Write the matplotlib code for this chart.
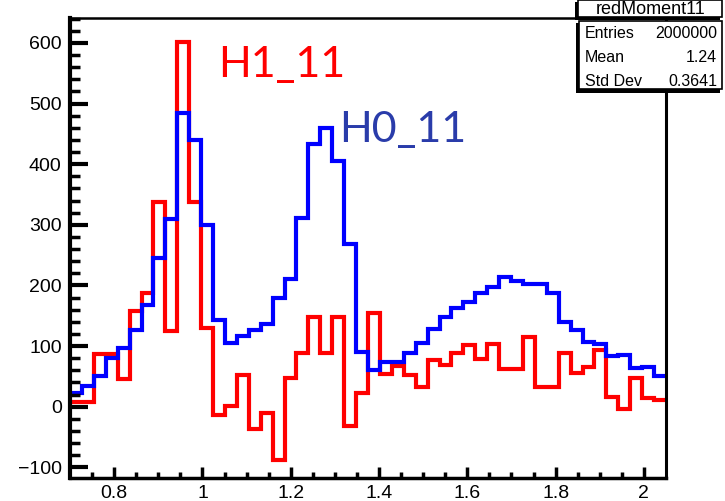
import numpy as np
import matplotlib
matplotlib.use('Agg')
import matplotlib.pyplot as plt
from matplotlib.patches import Rectangle

# ==================== data ====================
n_bins = 50
x_low, x_high = 0.7, 2.05

h0_11 = [23, 34, 50, 81, 97, 127, 168, 245, 309, 485,
         440, 299, 143, 105, 116, 126, 137, 180, 210, 312,
         434, 459, 405, 268, 91, 60, 73, 74, 89, 105,
         129, 148, 162, 173, 187, 197, 214, 208, 203, 202,
         187, 140, 127, 107, 103, 84, 85, 64, 66, 51]

h1_11 = [8, 8, 87, 87, 46, 158, 187, 338, 125, 602,
         338, 130, -14, 1, 53, -36, -11, -88, 47, 88,
         148, 89, 148, -32, 22, 154, 54, 68, 52, 33,
         77, 69, 89, 102, 78, 104, 62, 62, 115, 33,
         33, 88, 55, 66, 93, 16, -3, 47, 15, 11]

stat_names = ['Entries', 'Mean', 'Std Dev']
stat_values = ['2000000', '1.24', '0.3641']
hist_name = 'redMoment11'

# ==================== figure ====================
W, H = 725, 501
fig = plt.figure(figsize=(W / 100, H / 100), dpi=100)
ax = fig.add_axes([70 / W, 1 - 478 / H, (666 - 70) / W, (478 - 18) / H])

edges = np.linspace(x_low, x_high, n_bins + 1)
ax.stairs(h1_11, edges, baseline=None, color='#ff0000', linewidth=3)
ax.stairs(h0_11, edges, baseline=None, color='#0000ff', linewidth=3)

ax.set_xlim(x_low, x_high)
ax.set_ylim(-117.5, 641)

ax.set_xticks([0.8, 1.0, 1.2, 1.4, 1.6, 1.8, 2.0])
ax.set_xticklabels(['0.8', '1', '1.2', '1.4', '1.6', '1.8', '2'])
ax.set_xticks(np.arange(0.75, 2.05, 0.05), minor=True)
ax.set_yticks([-100, 0, 100, 200, 300, 400, 500, 600])
ax.set_yticklabels(['\u2212100', '0', '100', '200', '300', '400', '500', '600'])
ax.set_yticks(np.arange(-100, 641, 20), minor=True)

for lab in ax.get_xticklabels() + ax.get_yticklabels():
    lab.set_fontfamily('Liberation Sans')
    lab.set_fontsize(14)

ax.tick_params(axis='y', which='major', direction='in', length=13, width=3, pad=6)
ax.tick_params(axis='y', which='minor', direction='in', length=7, width=2.5)
ax.tick_params(axis='x', which='major', direction='in', length=8, width=2.5, pad=5)
ax.tick_params(axis='x', which='minor', direction='in', length=4, width=2.5)
ax.spines['left'].set_linewidth(3)
ax.spines['bottom'].set_linewidth(2.5)
ax.spines['top'].set_linewidth(1.8)
ax.spines['right'].set_linewidth(2.2)

# ------ labels on the plot ------
fig.text(218 / W, 1 - 77 / H, 'H1_11', color='#ff0000', fontsize=31,
         family='Lato', va='baseline', ha='left')
fig.text(339 / W, 1 - 142 / H, 'H0_11', color='#2a3caa', fontsize=31,
         family='Lato', va='baseline', ha='left')

# ------ ROOT style stats box ------
def px_rect(x0, y0, x1, y1, **kw):
    r = Rectangle((x0 / W, 1 - y1 / H), (x1 - x0) / W, (y1 - y0) / H,
                  transform=fig.transFigure, **kw)
    fig.add_artist(r)

# title box
px_rect(575, 2, 720, 20, facecolor='black', edgecolor='none')
px_rect(578, 0, 722, 17, facecolor='white', edgecolor='black', linewidth=1.2)
fig.text(651 / W, 1 - 10 / H, hist_name, ha='center', va='center',
         family='Liberation Sans', fontsize=13)

# stats box
px_rect(576, 23, 720, 93, facecolor='black', edgecolor='none')
px_rect(579, 21, 722, 89, facecolor='white', edgecolor='black', linewidth=1.2)
row_y = [34, 58, 81]
for name, val, yy in zip(stat_names, stat_values, row_y):
    fig.text(585 / W, 1 - yy / H, name, ha='left', va='center',
             family='Liberation Sans', fontsize=11.5)
    fig.text(717 / W, 1 - yy / H, val, ha='right', va='center',
             family='Liberation Sans', fontsize=11.5)

plt.savefig('out.png', dpi=100)
